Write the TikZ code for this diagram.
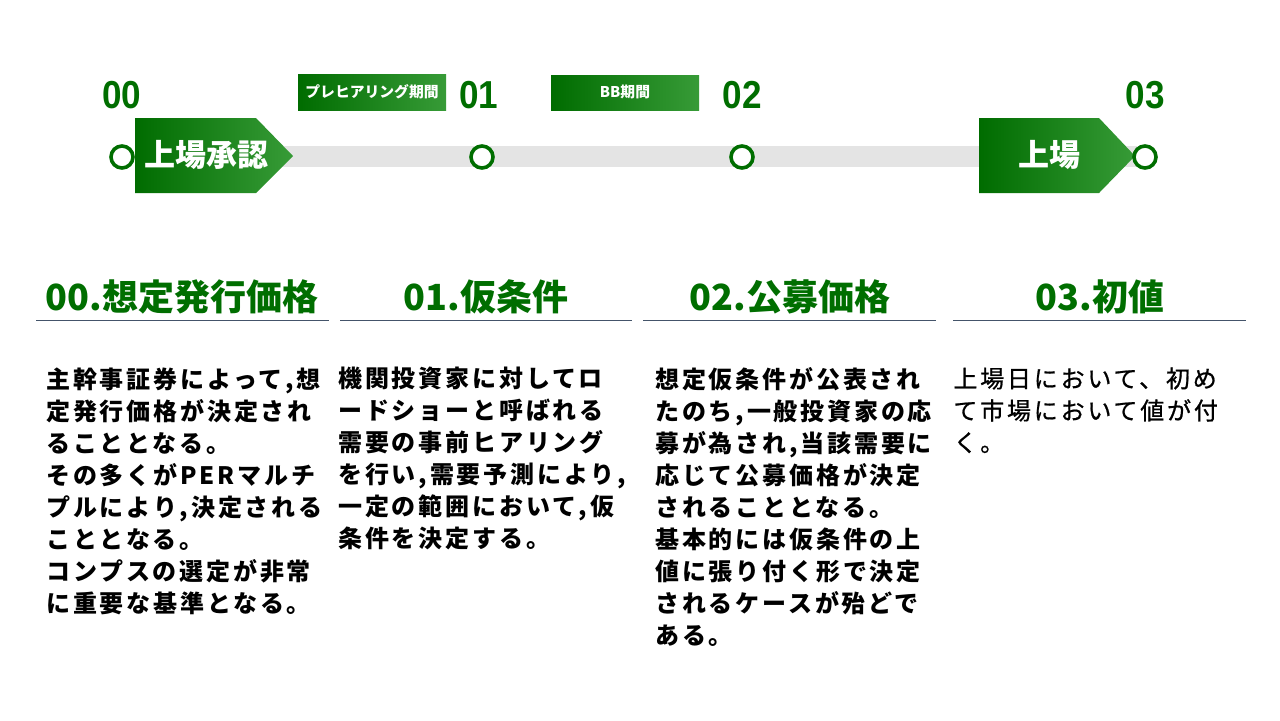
\documentclass[tikz,border=0pt]{standalone}
\usepackage{fontspec}
\usepackage{tikz}
\newfontfamily\jpfont{Noto Sans CJK JP}
\newfontfamily\jpbody{Noto Sans CJK JP}[LetterSpace=11.7]
\newfontfamily\jpmed{Noto Sans CJK JP}[LetterSpace=11.7, FakeBold=0.8]
\newfontfamily\numfont{Liberation Sans}[FakeStretch=0.9]
\definecolor{kgreen}{RGB}{0,110,0}
\definecolor{gleft}{RGB}{0,108,0}
\definecolor{gright}{RGB}{55,155,55}
\definecolor{barGray}{RGB}{228,228,228}
\definecolor{ruleBlue}{RGB}{68,84,106}
\tikzset{
  num/.style={text=kgreen, inner sep=0pt, font=\numfont\bfseries\fontsize{19.5}{20}\selectfont},
  milestone/.style={circle, draw=kgreen, line width=1.8pt, fill=white, minimum size=11pt, inner sep=0pt},
  tagtext/.style={text=white, inner sep=0pt, font=\jpfont\bfseries\fontsize{7.4}{8}\selectfont},
  flagtext/.style={text=white, inner sep=0pt, font=\jpfont\bfseries\fontsize{15.5}{16}\selectfont},
  heading/.style={text=kgreen, inner sep=0pt, font=\jpfont\bfseries\fontsize{18}{20}\selectfont},
  body/.style={anchor=north west, align=left, inner sep=0pt, font=\jpbody\bfseries\fontsize{12}{16}\selectfont},
  rule/.style={draw=ruleBlue, line width=0.5pt},
  grad/.style={left color=gleft, right color=gright}
}
\begin{document}
\begin{tikzpicture}[x=0.5pt,y=-0.5pt]
    \useasboundingbox[fill=white] (0,0) rectangle (1280,720);
    %%Thanh thời gian
    \fill[barGray] (135,146) rectangle (1137,167);
    \shade[grad] (135,118) -- (256,118) -- (293,156) -- (256,193) -- (135,193) -- cycle;
    \shade[grad] (979,118) -- (1099,118) -- (1135,156) -- (1099,193) -- (979,193) -- cycle;
    \node[flagtext] (f0) at (206,155) {上場承認};
    \node[flagtext] (f3) at (1049,155) {上場};
    \shade[grad] (298,74) rectangle (446,110);
    \shade[grad] (551,75) rectangle (699,110);
    \node[tagtext] (p1) at (372,92) {プレヒアリング期間};
    \node[tagtext] (p2) at (625,92) {BB期間};
    %%Các mốc
    \node[milestone] (m0) at (122,157) {};
    \node[milestone] (m1) at (482,157) {};
    \node[milestone] (m2) at (742,157) {};
    \node[milestone] (m3) at (1145,157) {};
    \node[num] (n0) at (122,95) {00};
    \node[num] (n1) at (479,95) {01};
    \node[num] (n2) at (742,95) {02};
    \node[num] (n3) at (1145,95) {03};
    %%Tiêu đề
    \node[heading] (h0) at (182,297) {00.想定発行価格};
    \node[heading] (h1) at (486,297) {01.仮条件};
    \node[heading] (h2) at (790,297) {02.公募価格};
    \node[heading] (h3) at (1100,297) {03.初値};
    \draw[rule] (36,320) -- (329,320);
    \draw[rule] (340,320) -- (632,320);
    \draw[rule] (643,320) -- (936,320);
    \draw[rule] (953,320) -- (1246,320);
    %%Nội dung
    \node[body] (t0) at (46,367) {主幹事証券によって,想\\定発行価格が決定され\\ることとなる。\\その多くがPERマルチ\\プルにより,決定される\\こととなる。\\コンプスの選定が非常\\に重要な基準となる。};
    \node[body] (t1) at (338,367) {機関投資家に対してロ\\ードショーと呼ばれる\\需要の事前ヒアリング\\を行い,需要予測により,\\一定の範囲において,仮\\条件を決定する。};
    \node[body] (t2) at (655,367) {想定仮条件が公表され\\たのち,一般投資家の応\\募が為され,当該需要に\\応じて公募価格が決定\\されることとなる。\\基本的には仮条件の上\\値に張り付く形で決定\\されるケースが殆どで\\ある。};
    \node[body, font=\jpmed\fontsize{12}{16}\selectfont] (t3) at (953,367) {上場日において、初め\\て市場において値が付\\く。};
\end{tikzpicture}
\end{document}
